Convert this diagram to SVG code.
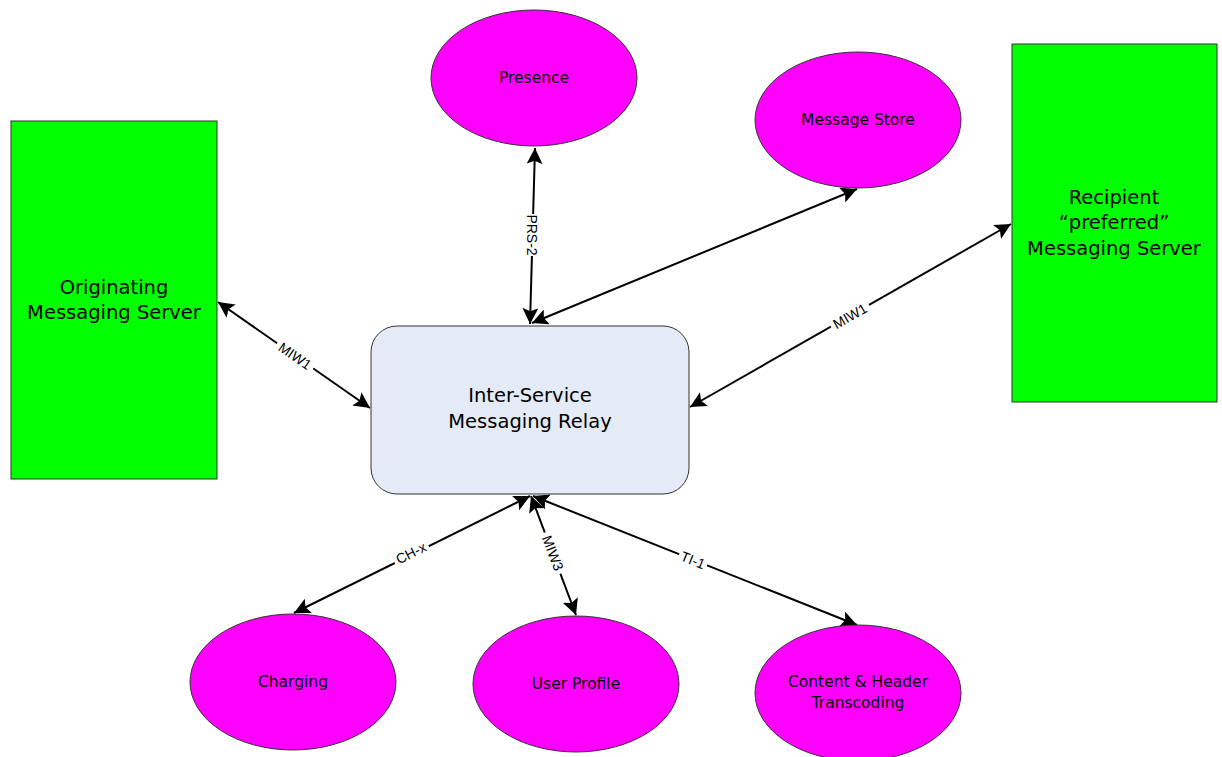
<svg xmlns="http://www.w3.org/2000/svg" width="1222" height="757" viewBox="0 0 1222 757">
<style>
.box{fill:#00ff00;stroke:#333;stroke-width:1}
.ell{fill:#ff00ff;stroke:#333;stroke-width:1}
.relay{fill:#e4ebf6;stroke:#333;stroke-width:1}
.t{font-family:"Comic Sans MS","DejaVu Sans",sans-serif;fill:#000;text-anchor:middle}
.big{font-size:19.5px}
.sm{font-size:15.5px}
.c{stroke:#000;stroke-width:2;fill:none;marker-start:url(#ah);marker-end:url(#ah)}
.lbl{font-family:"Liberation Sans",Arial,sans-serif;font-size:14px;text-anchor:middle;fill:#000}
.lb{fill:#fff}
</style>
<defs>
<marker id="ah" viewBox="0 0 10 10" refX="10" refY="5" markerWidth="8" markerHeight="8" orient="auto-start-reverse" markerUnits="strokeWidth">
<path d="M0,0 L10,5 L0,10 L2,5 z" fill="#000"/>
</marker>
</defs>
<rect width="1222" height="757" fill="#fff"/>
<g id="connectors">
<line class="c" x1="535" y1="148" x2="530" y2="324"/>
<line class="c" x1="532" y1="323" x2="857" y2="189"/>
<line class="c" x1="218" y1="302" x2="370" y2="408"/>
<line class="c" x1="690" y1="407" x2="1011" y2="224"/>
<line class="c" x1="530" y1="496" x2="294" y2="613"/>
<line class="c" x1="531" y1="496" x2="576" y2="615"/>
<line class="c" x1="533" y1="496" x2="857" y2="625"/>
<g transform="translate(532,235) rotate(90)"><rect class="lb" x="-21" y="-9" width="42" height="17"/><text class="lbl" y="5">PRS-2</text></g>
<g transform="translate(295,356) rotate(34.9)"><rect class="lb" x="-22" y="-9" width="44" height="17"/><text class="lbl" y="5">MIW1</text></g>
<g transform="translate(850,316) rotate(-29.7)"><rect class="lb" x="-22" y="-9" width="44" height="17"/><text class="lbl" y="5">MIW1</text></g>
<g transform="translate(411,553) rotate(-26.6)"><rect class="lb" x="-19" y="-9" width="38" height="17"/><text class="lbl" y="5">CH-x</text></g>
<g transform="translate(553,553) rotate(69)"><rect class="lb" x="-22" y="-9" width="44" height="17"/><text class="lbl" y="5">MIW3</text></g>
<g transform="translate(693,560) rotate(21.8)"><rect class="lb" x="-15" y="-9" width="30" height="17"/><text class="lbl" y="5">TI-1</text></g>
</g>
<g id="originating">
<rect class="box" x="11" y="121" width="206" height="358"/>
<text class="t big" x="114" y="294">Originating</text>
<text class="t big" x="114" y="319">Messaging Server</text>
</g>
<g id="recipient">
<rect class="box" x="1012" y="44" width="205" height="358"/>
<text class="t big" x="1114" y="204">Recipient</text>
<text class="t big" x="1114" y="229">“preferred”</text>
<text class="t big" x="1114" y="255">Messaging Server</text>
</g>
<g id="relay">
<rect class="relay" x="371" y="326" width="318" height="168" rx="26" ry="26"/>
<text class="t big" x="530" y="402">Inter-Service</text>
<text class="t big" x="530" y="428">Messaging Relay</text>
</g>
<g id="presence">
<ellipse class="ell" cx="534" cy="78" rx="103" ry="68"/>
<text class="t sm" x="534" y="83">Presence</text>
</g>
<g id="messagestore">
<ellipse class="ell" cx="858" cy="120" rx="103" ry="68"/>
<text class="t sm" x="858" y="125">Message Store</text>
</g>
<g id="charging">
<ellipse class="ell" cx="293" cy="682" rx="103" ry="68"/>
<text class="t sm" x="293" y="687">Charging</text>
</g>
<g id="userprofile">
<ellipse class="ell" cx="576" cy="684" rx="103" ry="68"/>
<text class="t sm" x="576" y="689">User Profile</text>
</g>
<g id="transcoding">
<ellipse class="ell" cx="858" cy="693" rx="103" ry="68"/>
<text class="t sm" x="858" y="687">Content &amp; Header</text>
<text class="t sm" x="858" y="708">Transcoding</text>
</g>
</svg>
